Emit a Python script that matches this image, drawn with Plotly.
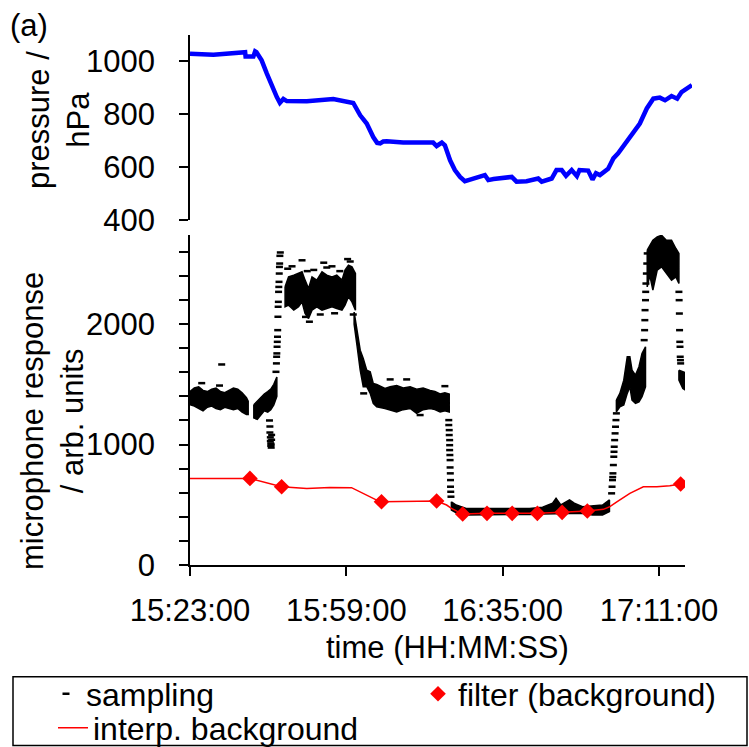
import plotly.graph_objects as go

# ---------------- data ----------------
# time axis in minutes after 15:23:00
tick_min = [0, 36, 72, 108]
tick_labels = ["15:23:00", "15:59:00", "16:35:00", "17:11:00"]

# pressure (hPa)
p_t = [0, 5.4, 12.7, 12.8, 14.6, 15.0, 15.3, 16.5, 17.7, 18.8, 20.0, 20.7, 21.5, 22.3, 26.9,
       33.0, 37.6, 39.2, 40.7, 42.2, 43.1, 43.8, 44.5, 45.3, 49.1, 56.0, 56.8, 58.0, 58.7,
       59.9, 61.0, 62.2, 63.3, 64.5, 67.9, 68.7, 69.9, 74.1, 75.2, 77.5, 80.2, 81.0, 83.3,
       84.4, 85.6, 86.6, 87.9, 89.1, 89.7, 91.7, 92.7, 93.5, 94.4, 96.3, 97.5, 98.6, 100.2,
       101.7, 103.6, 105.2, 106.7, 108.2, 109.4, 110.9, 112.2, 113.2, 114.0, 114.8, 115.6]
p_hpa = [1029, 1025, 1035, 1019, 1019, 1038, 1035, 1004, 954, 909, 865, 843, 858, 850, 849,
         858, 843, 796, 765, 714, 692, 690, 697, 698, 693, 693, 680, 693, 683,
         626, 589, 563, 547, 553, 570, 551, 555, 563, 545, 547, 557, 545, 557,
         589, 589, 567, 589, 566, 589, 587, 553, 577, 570, 594, 633, 652, 689,
         727, 765, 822, 859, 863, 853, 869, 859, 884, 893, 903, 910]

# microphone response: dense sampling bands (envelope of the point cloud)
band_id = ([0] * 15 + [1] * 8 + [2] * 18 + [3] * 20 + [4] * 17 + [5] * 10 + [6] * 9 + [7] * 3)
band_t = [0, 1, 2, 3, 4, 5, 6, 7, 8, 9, 10, 11, 12, 13, 13.4,
          14.7, 15.5, 16.3, 17.1, 17.9, 18.6, 19.3, 20.0,
          21.9, 22.7, 23.9, 25.0, 25.8, 26.5, 27.3, 28.1, 29.2, 30.4, 31.5, 32.7, 33.8, 35.0,
          35.7, 36.5, 37.3, 38.1,
          37.8, 38.5, 39.2, 39.9, 40.7, 41.5, 42.2, 43.0, 44.9, 46.1, 47.6, 49.1, 50.7, 52.2,
          53.7, 55.3, 56.4, 57.6, 58.7, 59.7,
          60.2, 61.3, 63.6, 66.7, 70.5, 74.3, 78.2, 81.2, 83.5, 84.3, 85.4, 87.4, 88.5, 90.4,
          92.7, 95.0, 96.6,
          98.2, 99.0, 99.9, 100.7, 101.3, 101.8, 102.6, 103.4, 104.1, 104.9,
          105.3, 105.9, 106.6, 107.6, 108.6, 109.7, 110.9, 111.9, 112.6,
          112.6, 113.5, 114.4]
band_hi = [1440, 1470, 1480, 1450, 1440, 1460, 1470, 1440, 1430, 1450, 1470, 1460, 1430, 1390, 1360,
           1330, 1360, 1390, 1420, 1440, 1460, 1500, 1560,
           2310, 2392, 2406, 2420, 2434, 2365, 2296, 2392, 2365, 2434, 2406, 2392, 2406, 2365,
           2448, 2489, 2475, 2420,
           2100, 1950, 1784, 1715, 1618, 1604, 1508, 1500, 1466, 1480, 1490, 1470, 1480, 1460,
           1470, 1450, 1440, 1420, 1430, 1420,
           525, 498, 470, 470, 467, 467, 470, 479, 513, 553, 498, 540, 513, 484,
           490, 498, 540,
           1369, 1425, 1535, 1729, 1729, 1618, 1577, 1646, 1757, 1812,
           2614, 2655, 2697, 2724, 2738, 2697, 2697, 2628, 2587,
           1618, 1604, 1591]
band_lo = [1330, 1320, 1300, 1280, 1310, 1320, 1300, 1290, 1310, 1300, 1290, 1300, 1270, 1250, 1250,
           1220, 1210, 1240, 1280, 1270, 1290, 1330, 1400,
           2144, 2158, 2116, 2144, 2185, 2088, 2047, 2116, 2144, 2116, 2130, 2144, 2130, 2116,
           2158, 2227, 2185, 2116,
           2000, 1812, 1618, 1480, 1480, 1425, 1342, 1314, 1300, 1290, 1270, 1290, 1300, 1260,
           1290, 1300, 1290, 1270, 1280, 1270,
           456, 434, 415, 415, 418, 418, 420, 424, 429, 429, 429, 429, 429, 429,
           415, 415, 443,
           1272, 1314, 1328, 1425, 1480, 1369, 1342, 1355, 1397, 1480,
           2309, 2406, 2282, 2448, 2475, 2420, 2365, 2392, 2337,
           1535, 1466, 1446]

# microphone response: individual sparse samples (transitions and outliers)
dash_t = [2.7, 6.8, 7.3,
          18.3, 18.4, 18.4, 18.5, 18.5, 18.6, 18.6, 18.7, 18.7, 18.8, 18.8,
          19.8, 19.9, 19.95, 20.0, 20.05, 20.1, 20.15, 20.2, 20.25, 20.3, 20.35, 20.4, 20.45,
          20.5, 20.55, 20.6, 20.65, 20.7, 20.8,
          22.5, 23.5, 25.8, 27.0, 28.5, 30.8, 31.5, 32.7, 34.5, 36.3, 36.9,
          26.6, 27.5, 30.0, 33.3, 37.6,
          40.0, 46.1, 49.9, 53.0, 58.7,
          59.6, 59.6, 59.7, 59.7, 59.8, 59.8, 59.8, 59.85, 59.9, 59.9, 59.95, 60.0, 60.0, 60.05, 60.1,
          97.1, 97.2, 97.3, 97.35, 97.4, 97.5, 97.6, 97.65, 97.7, 97.8, 97.9, 98.0, 98.1, 98.2,
          104.6, 104.7, 104.75, 104.8, 104.9, 104.95, 105.0, 105.1, 105.2, 105.3,
          112.6, 112.65, 112.7, 112.75, 112.8, 112.85, 112.9, 112.95, 113.0]
dash_v = [1510, 1490, 1665,
          1200, 1150, 1100, 1060, 1030, 1010, 990, 975, 1000, 1040, 1080,
          1604, 1674, 1729, 1757, 1812, 1853, 1895, 1950, 2061, 2144, 2185, 2268, 2309,
          2351, 2420, 2475, 2503, 2567, 2595,
          2460, 2480, 2530, 2440, 2450, 2510, 2470, 2480, 2440, 2540, 2520,
          2060, 2020, 2080, 2090, 2080,
          1425, 1541, 1541, 1245, 1485,
          1203, 1162, 1120, 1079, 1037, 995, 954, 913, 871, 810, 761, 705, 650, 608, 567,
          595, 650, 705, 730, 761, 830, 899, 940, 982, 1037, 1093, 1148, 1203, 1259,
          1867, 1950, 2033, 2116, 2199, 2268, 2337, 2420, 2503, 2587,
          2268, 2199, 2088, 1950, 1853, 1812, 1729, 1701, 1674]

# filter (background) measurements
filt_t = [13.8, 21.1, 44.1, 56.8, 62.8, 68.4, 74.2, 80.0, 85.7, 91.5, 113.0]
filt_v = [719, 650, 525, 531, 423, 429, 429, 429, 437, 448, 672]

# interpolated background
bg_t = [0, 13.8, 21.1, 26.9, 32.2, 37.2, 43.0, 44.1, 56.8, 59.1, 60.2, 62.8, 68.4, 74.2,
        80.0, 85.7, 91.5, 95.2, 96.7, 98.3, 101.3, 104.4, 107.5, 110.5, 113.0]
bg_v = [719, 719, 650, 636, 644, 642, 539, 525, 531, 498, 470, 423, 429, 429,
        429, 437, 448, 462, 484, 525, 595, 650, 650, 659, 672]

# ---------------- layout geometry (pixels) ----------------
W, H = 749, 747
L, R, T, B = 190, 692, 35, 565
AX_RIGHT = 685
X_END = 114.0
FONT = "Liberation Sans, Arial, sans-serif"


def px_x(px):
    return (px - L) / (R - L)


def px_y(py):
    return (B - py) / (B - T)


# build band polygons
poly_x, poly_y = [], []
for sid in sorted(set(band_id)):
    idx = [i for i, s in enumerate(band_id) if s == sid]
    ts = [band_t[i] for i in idx]
    his = [band_hi[i] for i in idx]
    los = [band_lo[i] for i in idx]
    poly_x += ts + ts[::-1] + [ts[0], None]
    poly_y += his + los[::-1] + [his[0], None]

fig = go.Figure()

fig.add_trace(go.Scatter(x=poly_x, y=poly_y, mode="lines", fill="toself",
                         fillcolor="black", line=dict(color="black", width=1.5),
                         showlegend=False, hoverinfo="skip", xaxis="x", yaxis="y"))
fig.add_trace(go.Scatter(x=dash_t, y=dash_v, mode="markers", name="sampling",
                         marker=dict(symbol="line-ew", size=5, color="black",
                                     line=dict(color="black", width=2.5)),
                         xaxis="x", yaxis="y", legend="legend"))
fig.add_trace(go.Scatter(x=bg_t, y=bg_v, mode="lines", name="interp. background",
                         line=dict(color="#ff0000", width=1.5),
                         xaxis="x", yaxis="y", legend="legend3"))
fig.add_trace(go.Scatter(x=filt_t, y=filt_v, mode="markers", name="filter (background)",
                         marker=dict(symbol="diamond", size=12, color="#ff0000"),
                         xaxis="x", yaxis="y", legend="legend2"))
fig.add_trace(go.Scatter(x=p_t, y=p_hpa, mode="lines", line=dict(color="#0000ff", width=4.5),
                         showlegend=False, xaxis="x2", yaxis="y2"))

axis_common = dict(showline=True, linecolor="black", linewidth=1.5, ticks="outside",
                   ticklen=9, tickwidth=1.5, tickcolor="black", showgrid=False,
                   zeroline=False, automargin=False,
                   tickfont=dict(family=FONT, size=31, color="black"))

legend_common = dict(xref="paper", yref="paper", xanchor="left", yanchor="middle",
                     orientation="v", bgcolor="rgba(0,0,0,0)", borderwidth=0,
                     font=dict(family=FONT, size=32, color="black"))

fig.update_layout(
    width=W, height=H,
    margin=dict(l=L, r=W - R, t=T, b=H - B, pad=0, autoexpand=False),
    paper_bgcolor="white", plot_bgcolor="white",
    font=dict(family=FONT, size=31, color="black"),
    xaxis=dict(domain=[0, px_x(AX_RIGHT)], range=[0, X_END],
               tickmode="array", tickvals=tick_min, ticktext=tick_labels,
               anchor="y", ticklabelstandoff=8, **axis_common),
    xaxis2=dict(domain=[0, 1], range=[0, X_END * (R - L) / (AX_RIGHT - L)], visible=False,
                anchor="y2"),
    yaxis=dict(domain=[0, px_y(235)], range=[0, 2740], dtick=1000, tick0=0,
               minor=dict(dtick=200, ticks="outside", ticklen=9, tickwidth=1.5,
                          tickcolor="black"),
               anchor="x", ticklabelstandoff=18, **axis_common),
    yaxis2=dict(domain=[px_y(220), 1], range=[400, 1100], dtick=200, tick0=0,
                anchor="x2", ticklabelstandoff=18, **axis_common),
    legend=dict(x=px_x(46), y=px_y(694), **legend_common),
    legend2=dict(x=px_x(418), y=px_y(694), **legend_common),
    legend3=dict(x=px_x(53), y=px_y(728), **legend_common),
    shapes=[dict(type="rect", xref="paper", yref="paper",
                 x0=px_x(13), x1=px_x(747), y0=px_y(745.5), y1=px_y(676.7),
                 line=dict(color="black", width=1.5), fillcolor="rgba(0,0,0,0)")],
    annotations=[
        dict(text="(a)", x=px_x(29), y=px_y(26), xref="paper", yref="paper",
             showarrow=False, xanchor="center", yanchor="middle",
             font=dict(family=FONT, size=31)),
        dict(text="pressure /<br>hPa", x=px_x(59), y=px_y(120), xref="paper", yref="paper",
             showarrow=False, textangle=-90, xanchor="center", yanchor="middle",
             font=dict(family=FONT, size=31)),
        dict(text="microphone response<br>/ arb. units", x=px_x(52), y=px_y(421),
             xref="paper", yref="paper", showarrow=False, textangle=-90,
             xanchor="center", yanchor="middle", font=dict(family=FONT, size=31)),
        dict(text="time (HH:MM:SS)", x=px_x(447.5), y=px_y(647), xref="paper", yref="paper",
             showarrow=False, xanchor="center", yanchor="middle",
             font=dict(family=FONT, size=31)),
    ],
)

fig.write_html("out.html")
